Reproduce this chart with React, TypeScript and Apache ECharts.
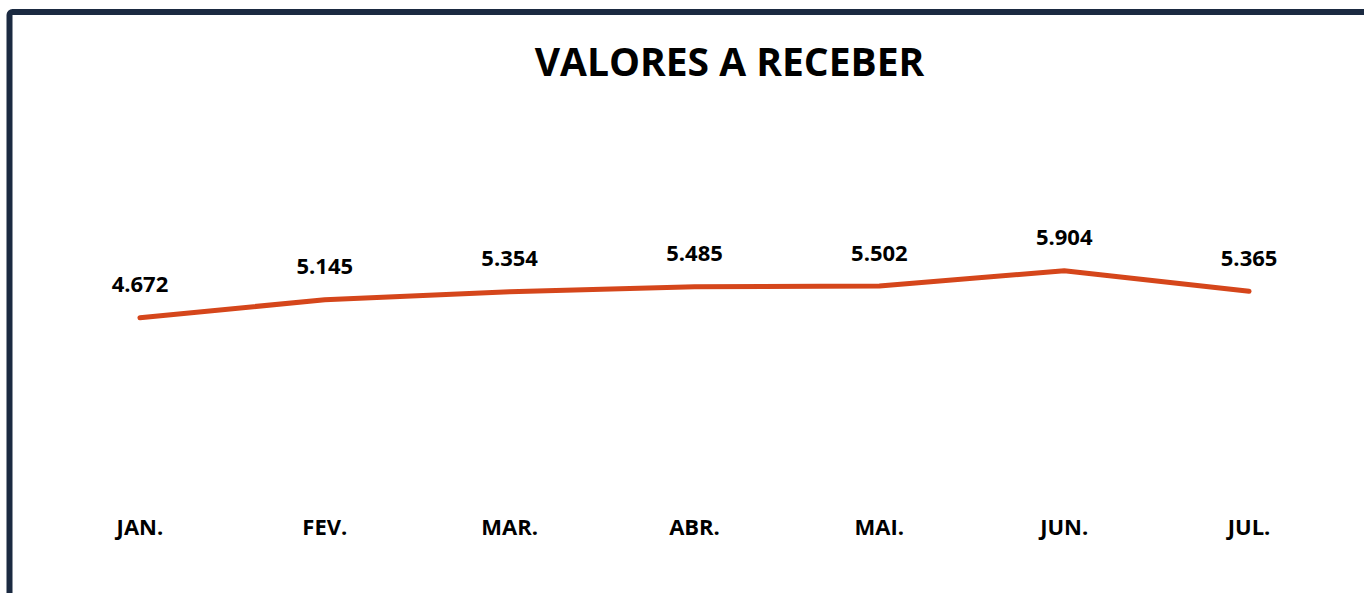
import React, { useEffect, useRef } from "react";
import * as echarts from "echarts";

const months = ["JAN.", "FEV.", "MAR.", "ABR.", "MAI.", "JUN.", "JUL."];
const valores = [4672, 5145, 5354, 5485, 5502, 5904, 5365];
const titleText = "VALORES A RECEBER";

const fmt = (v: number) => {
  const s = String(Math.round(v));
  return s.replace(/\B(?=(\d{3})+(?!\d))/g, ".");
};

export default function App() {
  const ref = useRef<HTMLDivElement>(null);
  useEffect(() => {
    if (!ref.current) return;
    const chart = echarts.init(ref.current, null, { renderer: "svg" });
    chart.setOption({
      animation: false,
      backgroundColor: "#ffffff",
      textStyle: { fontFamily: "Open Sans" },
      title: {
        text: titleText,
        left: 724.5,
        top: 36,
        textAlign: "center",
        textStyle: { fontFamily: "Open Sans", fontWeight: "bold", fontSize: 39, color: "#000000" },
      },
      graphic: [
        {
          type: "rect",
          shape: { x: 9.5, y: 12, width: 1500, height: 800, r: 3 },
          style: { fill: "none", stroke: "#1b2a41", lineWidth: 6 },
          silent: true,
          z: 10,
        },
      ],
      grid: { left: 47.5, right: 22.5, top: 114.5, bottom: 97 },
      xAxis: {
        type: "category",
        data: months,
        boundaryGap: true,
        axisLine: { show: false },
        axisTick: { show: false },
        axisLabel: {
          margin: 19,
          fontFamily: "Open Sans",
          fontWeight: "bold",
          fontSize: 22,
          color: "#000000",
        },
      },
      yAxis: {
        type: "value",
        min: 0,
        max: 10000,
        show: false,
        splitLine: { show: false },
      },
      series: [
        {
          type: "line",
          data: valores,
          symbol: "circle",
          symbolSize: 1,
          showSymbol: true,
          lineStyle: { color: "#d5461b", width: 5, cap: "round", join: "round" },
          itemStyle: { color: "#d5461b" },
          label: {
            show: true,
            position: "top",
            distance: 23,
            formatter: (p: any) => fmt(p.value),
            fontFamily: "Open Sans",
            fontWeight: "bold",
            fontSize: 22,
            color: "#000000",
          },
        },
      ],
    });
    return () => chart.dispose();
  }, []);
  return (
    <div
      ref={ref}
      style={{ position: "fixed", left: 0, top: 0, width: 1364, height: 593, background: "#fff" }}
    />
  );
}
